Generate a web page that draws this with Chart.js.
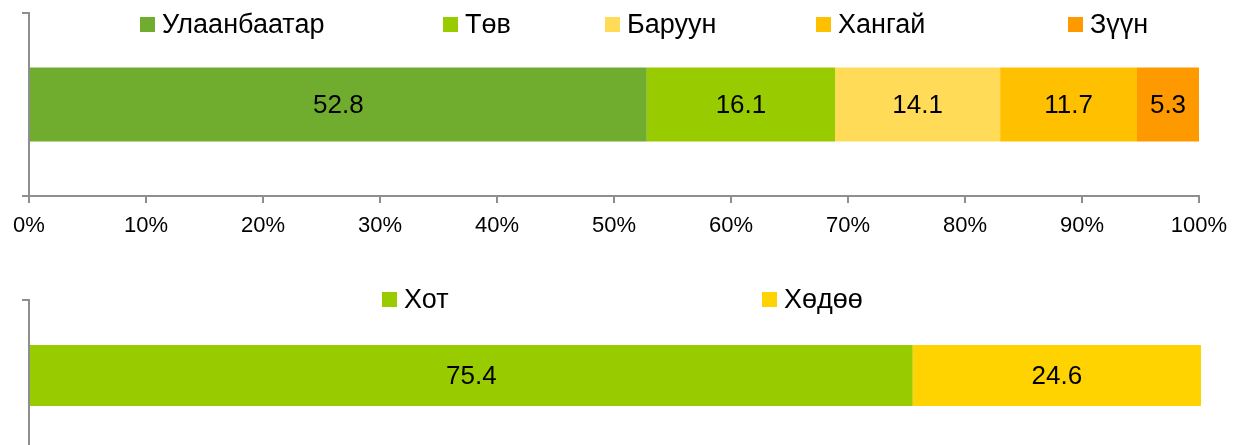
<!DOCTYPE html>
<html><head><meta charset="utf-8">
<script src="https://cdn.jsdelivr.net/npm/chart.js@4.4.1/dist/chart.umd.min.js"></script>
<style>
html,body{margin:0;padding:0;background:#fff;overflow:hidden;width:1240px;height:445px;}
#c1{position:absolute;left:0;top:0;}
#c2{position:absolute;left:0;top:250px;}
</style></head><body>
<canvas id="c1" width="1240" height="250"></canvas>
<canvas id="c2" width="1240" height="260"></canvas>
<script>
// ---- data ----
const categories = [''];
const regionSeries = ['Улаанбаатар', 'Төв', 'Баруун', 'Хангай', 'Зүүн'];
const regionValues = [52.8, 16.1, 14.1, 11.7, 5.3];
const settlementSeries = ['Хот', 'Хөдөө'];
const settlementValues = [75.4, 24.6];
const percentTickLabels = ['0%', '10%', '20%', '30%', '40%', '50%', '60%', '70%', '80%', '90%', '100%'];

// ---- styles ----
const regionColors = ['#70AD2F', '#99CC00', '#FFDB58', '#FFC000', '#FF9900'];
const settlementColors = ['#99CC00', '#FFD300'];
const axisGray = '#8e8e8e';
const FONT = '"Liberation Sans", Arial, sans-serif';

const boxLegend = {
  id: 'boxLegend',
  afterDraw(chart, args, opts) {
    const ctx = chart.ctx;
    ctx.save();
    ctx.font = opts.font;
    ctx.textBaseline = 'middle';
    ctx.textAlign = 'left';
    chart.data.datasets.forEach((ds, i) => {
      const x = opts.x[i], y = opts.y;
      ctx.fillStyle = ds.backgroundColor;
      ctx.fillRect(x, y - 7.5, 15, 15);
      ctx.fillStyle = '#000';
      ctx.fillText(ds.label, x + 22, y + 1);
    });
    ctx.restore();
  }
};

const valueLabels = {
  id: 'valueLabels',
  afterDatasetsDraw(chart, args, opts) {
    const ctx = chart.ctx;
    ctx.save();
    ctx.font = opts.font;
    ctx.fillStyle = '#000';
    ctx.textAlign = 'center';
    ctx.textBaseline = 'middle';
    chart.data.datasets.forEach((ds, i) => {
      chart.getDatasetMeta(i).data.forEach((bar, j) => {
        const p = bar.getProps(['x', 'base', 'y'], true);
        ctx.fillText(ds.data[j].toFixed(1), (p.x + p.base) / 2, p.y + 1);
      });
    });
    ctx.restore();
  }
};

function makeChart(canvas, series, values, colors, pad, legendX, legendY) {
  return new Chart(canvas, {
    type: 'bar',
    data: {
      labels: categories,
      datasets: series.map((s, i) => ({
        label: s, data: [values[i]], backgroundColor: colors[i], borderWidth: 0,
        barPercentage: 0.405, categoryPercentage: 1
      }))
    },
    options: {
      indexAxis: 'y', responsive: false, animation: false,
      layout: { padding: pad },
      plugins: {
        legend: { display: false }, tooltip: { enabled: false },
        boxLegend: { x: legendX, y: legendY, font: '27px ' + FONT },
        valueLabels: { font: '26px ' + FONT }
      },
      scales: {
        x: {
          stacked: true, min: 0, max: 100,
          ticks: { stepSize: 10, autoSkip: false, maxRotation: 0, color: '#000', padding: 10,
                   font: { family: FONT, size: 22 }, callback: (v, i) => percentTickLabels[i] },
          grid: { drawOnChartArea: false, drawTicks: true, tickLength: 7, color: axisGray, lineWidth: 2 },
          border: { display: true, color: axisGray, width: 2 },
          afterFit: s => { s.height = 45; }
        },
        y: {
          stacked: true,
          ticks: { display: false },
          grid: { drawOnChartArea: false, drawTicks: true, tickLength: 7, offset: true, color: axisGray, lineWidth: 2 },
          border: { display: true, color: axisGray, width: 2 },
          afterFit: s => { s.width = 7; }
        }
      }
    },
    plugins: [boxLegend, valueLabels]
  });
}

makeChart(document.getElementById('c1'), regionSeries, regionValues, regionColors,
  { top: 13, left: 22, right: 41, bottom: 9 }, [140, 443, 605, 816, 1068], 24.5);
makeChart(document.getElementById('c2'), settlementSeries, settlementValues, settlementColors,
  { top: 50, left: 22, right: 39, bottom: 14 }, [382, 762], 49.5);
</script>
</body></html>
